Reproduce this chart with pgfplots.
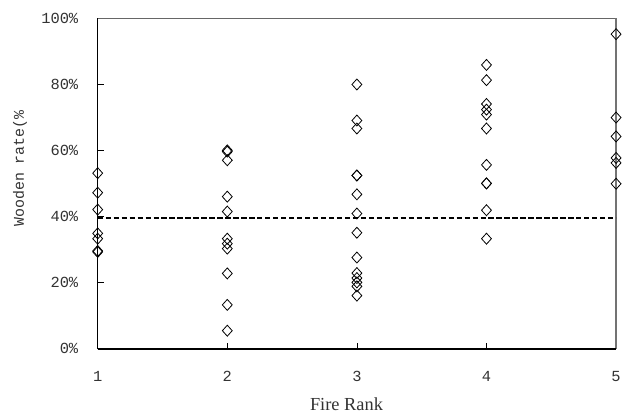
\documentclass[border=0pt]{standalone}
\usepackage{fontspec}
\usepackage{pgfplots}
\pgfplotsset{compat=1.18}
\newfontfamily\mono{Liberation Mono}
\newfontfamily\serifx{Liberation Serif}
\begin{document}
\begin{tikzpicture}
\begin{axis}[
  scale only axis, width=520bp, height=332bp,
  xmin=1, xmax=5, ymin=0, ymax=100,
  xtick={1,2,3,4,5}, xticklabels={1,2,3,4,5},
  ytick={0,20,40,60,80,100}, yticklabels={0\%,20\%,40\%,60\%,80\%,100\%},
  tick pos=left, tick align=inside, major tick length=6bp,
  tick style={black, line width=0.6bp},
  ticklabel style={font=\mono\fontsize{15.5}{16}\selectfont, text=black!80},
  yticklabel style={xshift=-16bp},
  xticklabel style={yshift=-19bp},
  axis line style={draw=none},
  clip=false,
  xlabel={Fire Rank},
  xlabel style={at={(axis description cs:0.48,-0.166)}, anchor=center, font=\serifx\fontsize{18.5}{19}\selectfont, text=black!80},
  ylabel={Wooden rate(\%},
  ylabel style={at={(axis description cs:-0.15,0.545)}, anchor=center, font=\mono\fontsize{15}{16}\selectfont, text=black!80},
]
\draw[black, line width=0.9bp] (rel axis cs:0,0) -- (rel axis cs:0,1);
\draw[black!60, line width=0.7bp] (rel axis cs:0,1) -- (rel axis cs:1,1);
\draw[black!55, line width=1.3bp] (rel axis cs:1,0) -- (rel axis cs:1,1);
\draw[black, line width=1.8bp] (rel axis cs:0,0) -- (rel axis cs:1,0);
\addplot[black, line width=2bp, dash pattern=on 5.3bp off 2.7bp] coordinates {(1,39.5) (5,39.5)};
\addplot[only marks, mark=diamond, mark size=5.5bp, mark options={xscale=1.2, line width=0.8bp, draw=black, fill=white}] coordinates {
(1,53.1) (1,47.2) (1,42.1) (1,34.9) (1,33.3) (1,29.6) (1,29.3)
(2,60.0) (2,59.6) (2,57.0) (2,46.0) (2,41.5) (2,33.3) (2,31.8) (2,30.3) (2,22.8) (2,13.3) (2,5.5)
(3,79.9) (3,69.0) (3,66.6) (3,52.4) (3,52.4) (3,46.7) (3,40.9) (3,35.1) (3,27.6) (3,22.9) (3,21.4) (3,20.1) (3,18.9) (3,16.1)
(4,85.8) (4,81.2) (4,74.0) (4,72.3) (4,70.8) (4,66.6) (4,55.6) (4,50.0) (4,50.0) (4,41.9) (4,33.3)
(5,95.1) (5,69.9) (5,64.2) (5,57.7) (5,56.2) (5,49.9)
};
\path (rel axis cs:0,0) ++(-98bp,-68bp) coordinate (bl);
\path (rel axis cs:1,1) ++(6bp,18bp) coordinate (tr);
\end{axis}
\useasboundingbox (bl) rectangle (tr);
\end{tikzpicture}
\end{document}
